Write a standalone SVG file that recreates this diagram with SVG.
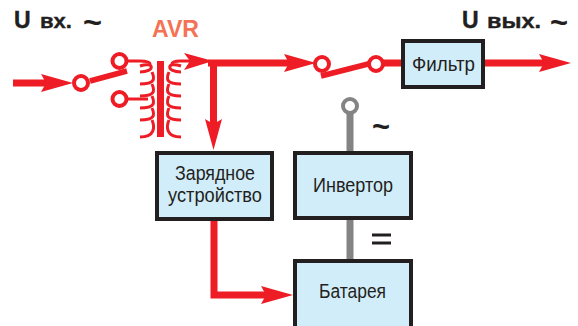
<svg xmlns="http://www.w3.org/2000/svg" width="578" height="326" viewBox="0 0 578 326">
<style>
text{font-family:"Liberation Sans",Arial,sans-serif}
.box{fill:#d2edfa;stroke:#231f20;stroke-width:4}
.lab{font-size:20px;fill:#231f20;text-anchor:start}
.head{font-size:21px;font-weight:bold;fill:#231f20;stroke:#231f20;stroke-width:0.400}
.u{font-size:23px}
.tilde{font-size:31px;font-weight:bold;fill:#231f20}
.red{fill:none;stroke:#ee1c25;stroke-width:7}
.sw{fill:none;stroke:#ee1c25;stroke-width:5.500}
.thin{fill:none;stroke:#ee1c25;stroke-width:3}
.coil{fill:none;stroke:#ee1c25;stroke-width:3;stroke-linecap:butt}
.ring{fill:#fff;stroke:#ee1c25;stroke-width:4}
.gray{fill:none;stroke:#848484;stroke-width:7}
.ah{fill:#ee1c25}
</style>
<g id="connectors">
<path class="red" d="M13 83H50"/>
<polygon class="ah" points="73,83 41,74 46,83 41,92"/>
<path class="sw" d="M90 81L127 71"/>
<path class="thin" d="M127 61H140Q150 61 150 64"/>
<path class="thin" d="M127 99H148"/>
<path class="thin" d="M172 64Q172 61 180 61H192"/>
<polygon class="ah" points="213,61 184,53 190,61 184,70"/>
<path class="red" d="M208 63H290"/>
<polygon class="ah" points="316,63 284,54 289,63 284,72"/>
<path class="sw" d="M321 76L372 63"/>
<path class="red" d="M383 63H404"/>
<path class="red" d="M485 63H545"/>
<polygon class="ah" points="571,63 539,54 544,63 539,72"/>
<path class="red" d="M213.500 63V125"/>
<polygon class="ah" points="213.500,150 205,119 213.500,124 222,119"/>
<path class="red" d="M214 221V295H270"/>
<polygon class="ah" points="293,295 261,286 266,295 261,304"/>
<path class="gray" d="M350 113V152"/>
<path class="gray" d="M350 220V261"/>
</g>
<g id="switch-in">
<circle class="ring" cx="81" cy="83" r="7"/>
<circle class="ring" cx="119.500" cy="61" r="7"/>
<circle class="ring" cx="119.500" cy="99" r="7"/>
</g>
<g id="transformer">
<path class="coil" d="M140 66C155 61 155 72 140 72M152 72C155 79 155 84 140 84M152 84C155 91 155 96 140 96M152 96C155 103 155 108 140 108M152 108C155 115 155 120 140 120M152 120C155 127 155 137 140 137"/>
<rect x="157" y="61" width="7" height="76" fill="#ee1c25"/>
<path class="coil" d="M181 66C166 61 166 72 181 72M169 72C166 79 166 84 181 84M169 84C166 91 166 96 181 96M169 96C166 103 166 108 181 108M169 108C166 115 166 120 181 120M169 120C166 127 166 137 181 137"/>
<text x="152" y="37" font-size="23" font-weight="bold" fill="#f47354">AVR</text>
</g>
<g id="switch-out">
<circle class="ring" cx="322" cy="64" r="7"/>
<circle class="ring" cx="376" cy="64" r="7"/>
</g>
<g id="label-in"><text class="head u" x="14" y="28">U</text><text class="head" x="40" y="28" textLength="32" lengthAdjust="spacingAndGlyphs">вх.</text><text class="tilde" x="83" y="33" textLength="19" lengthAdjust="spacingAndGlyphs">~</text></g>
<g id="label-out"><text class="head u" x="462" y="28">U</text><text class="head" x="487" y="28" textLength="54" lengthAdjust="spacingAndGlyphs">вых.</text><text class="tilde" x="550" y="33" textLength="18" lengthAdjust="spacingAndGlyphs">~</text></g>
<g id="filter"><rect class="box" x="403" y="41" width="80" height="46"/><text class="lab" x="412" y="71" textLength="63" lengthAdjust="spacingAndGlyphs">Фильтр</text></g>
<g id="charger"><rect class="box" x="157" y="153" width="115" height="66"/><text class="lab" x="175" y="180" textLength="80" lengthAdjust="spacingAndGlyphs">Зарядное</text><text class="lab" x="168" y="202" textLength="94" lengthAdjust="spacingAndGlyphs">устройство</text></g>
<g id="inverter"><rect class="box" x="295" y="153" width="116" height="65"/><text class="lab" x="313" y="192" textLength="80" lengthAdjust="spacingAndGlyphs">Инвертор</text></g>
<g id="battery"><rect class="box" x="295" y="261" width="116" height="67"/><text class="lab" x="319" y="298" textLength="67" lengthAdjust="spacingAndGlyphs">Батарея</text></g>
<g id="dc-ac-marks">
<circle cx="350" cy="106" r="7" fill="#fff" stroke="#848484" stroke-width="4"/>
<text class="tilde" x="372" y="137" textLength="18" lengthAdjust="spacingAndGlyphs">~</text>
<path d="M372 235H391M372 243H391" stroke="#231f20" stroke-width="3" fill="none"/>
</g>
</svg>
